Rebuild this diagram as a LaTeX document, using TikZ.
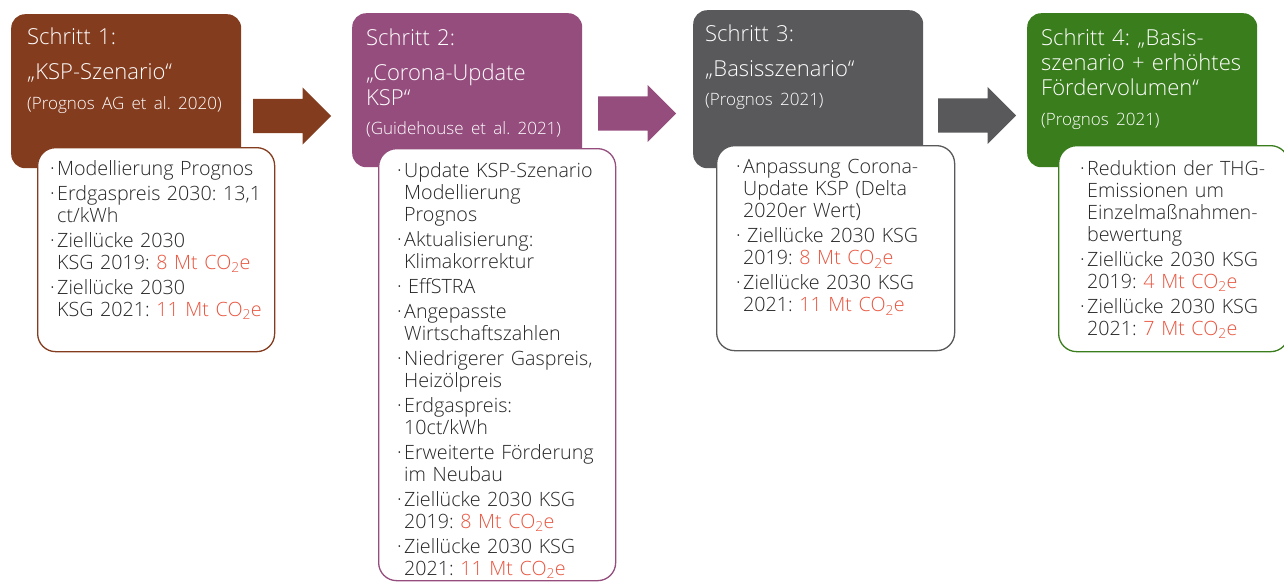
\documentclass[tikz,border=0pt]{standalone}
\usepackage{fontspec}
\setmainfont{Open Sans Light}
\frenchspacing
\usetikzlibrary{shapes.arrows,positioning}

\definecolor{stepbrown}{HTML}{843C1F}
\definecolor{steppurple}{HTML}{954D7E}
\definecolor{stepgray}{HTML}{59595B}
\definecolor{stepgreen}{HTML}{3A7D1C}
\definecolor{valred}{HTML}{E9553F}
\definecolor{bodytext}{HTML}{262626}

% bullet line with hanging indent
\newcommand{\bpt}{\noindent\hangindent=7pt\hangafter=1\makebox[7pt][l]{·}}
\newcommand{\redval}[1]{\textcolor{valred}{#1}}
\newcommand{\srcline}[1]{{\fontsize{17}{19}\selectfont #1}}

\begin{document}
\begin{tikzpicture}[x=1pt,y=-1pt]
	\tikzstyle{step_box} = [rectangle, rounded corners=14pt, anchor=north west, inner sep=0pt, minimum width=230pt, minimum height=154pt]
	\tikzstyle{step_text} = [anchor=north west, inner sep=0pt, text=white, text width=222pt, align=left, font=\fontsize{22}{25}\selectfont]
	\tikzstyle{info_box} = [rectangle, draw, line width=1.3pt, rounded corners=18pt, fill=white, anchor=north west, inner sep=0pt]
	\tikzstyle{info_text} = [anchor=north west, inner sep=0pt, text=bodytext, text width=228pt, align=left, font=\fontsize{19.7}{22}\selectfont\setlength{\parskip}{3pt}]
	\tikzstyle{step_arrow} = [single arrow, single arrow head extend=11.5pt, inner xsep=0pt, inner ysep=17pt, minimum height=78pt, anchor=west]

	\useasboundingbox (0,0) rectangle (1284,582);

	% Schritt 1
	\node (step1) [step_box, fill=stepbrown] at (11,14) {};
	\node (head1) [step_text] at ([shift={(16,14)}]step1.north west) {Schritt 1:\\[10pt]„KSP-Szenario“\\[5pt]\srcline{(Prognos AG et al. 2020)}};
	\node (info1) [info_box, draw=stepbrown, minimum width=237pt, minimum height=204pt] at (37,147) {};
	\node (text1) [info_text] at (50,160.5) {%
		\bpt Modellierung Prognos\par
		\bpt Erdgaspreis 2030: 13,1\newline ct/kWh\par
		\bpt Ziellücke 2030\newline KSG 2019: \redval{8 Mt CO\textsubscript{2}e}\par
		\bpt Ziellücke 2030\newline KSG 2021: \redval{11 Mt CO\textsubscript{2}e}\par};

	% Schritt 2
	\node (step2) [step_box, fill=steppurple] at (352,13) {};
	\node (head2) [step_text] at ([shift={(14,16)}]step2.north west) {Schritt 2:\\[10pt]„Corona-Update\\KSP“\\[4pt]\srcline{(Guidehouse et al. 2021)}};
	\node (info2) [info_box, draw=steppurple, minimum width=237pt, minimum height=432pt] at (378,148) {};
	\node (text2) [info_text] at (397,162.5) {%
		\bpt Update KSP-Szenario\newline Modellierung\newline Prognos\par
		\bpt Aktualisierung:\newline Klimakorrektur\par
		\bpt\hspace{4pt}EffSTRA\par
		\bpt Angepasste\newline Wirtschaftszahlen\par
		\bpt Niedrigerer Gaspreis,\newline Heizölpreis\par
		\bpt Erdgaspreis:\newline 10ct/kWh\par
		\bpt Erweiterte Förderung\newline im Neubau\par
		\bpt Ziellücke 2030 KSG\newline 2019: \redval{8 Mt CO\textsubscript{2}e}\par
		\bpt Ziellücke 2030 KSG\newline 2021: \redval{11 Mt CO\textsubscript{2}e}\par};

	% Schritt 3
	\node (step3) [step_box, fill=stepgray, minimum height=158pt] at (693,10) {};
	\node (head3) [step_text] at ([shift={(12,15)}]step3.north west) {Schritt 3:\\[10pt]„Basisszenario“\\[4pt]\srcline{(Prognos 2021)}};
	\node (info3) [info_box, draw=stepgray, minimum width=238pt, minimum height=205pt] at (716,145) {};
	\node (text3) [info_text] at (736,159.5) {%
		\bpt Anpassung Corona-\newline Update KSP (Delta\newline 2020er Wert)\par
		\bpt\hspace{4pt}Ziellücke 2030 KSG\newline 2019: \redval{8 Mt CO\textsubscript{2}e}\par
		\bpt Ziellücke 2030 KSG\newline 2021: \redval{11 Mt CO\textsubscript{2}e}\par};

	% Schritt 4
	\node (step4) [step_box, fill=stepgreen] at (1027,13) {};
	\node (head4) [step_text] at ([shift={(14,16)}]step4.north west) {Schritt 4: „Basis-\\szenario + erhöhtes\\Fördervolumen“\\[5pt]\srcline{(Prognos 2021)}};
	\node (info4) [info_box, draw=stepgreen, minimum width=230pt, minimum height=206pt] at (1058,145) {};
	\node (text4) [info_text] at (1080,160.5) {%
		\bpt Reduktion der THG-\newline Emissionen um\newline Einzelmaßnahmen-\newline bewertung\par
		\bpt Ziellücke 2030 KSG\newline 2019: \redval{4 Mt CO\textsubscript{2}e}\par
		\bpt Ziellücke 2030 KSG\newline 2021: \redval{7 Mt CO\textsubscript{2}e}\par};

	% Pfeile zwischen den Schritten
	\node (arrow1) [step_arrow, fill=stepbrown] at (253,116) {};
	\node (arrow2) [step_arrow, fill=steppurple] at (598,113.5) {};
	\node (arrow3) [step_arrow, fill=stepgray] at (938,115.5) {};
\end{tikzpicture}
\end{document}
